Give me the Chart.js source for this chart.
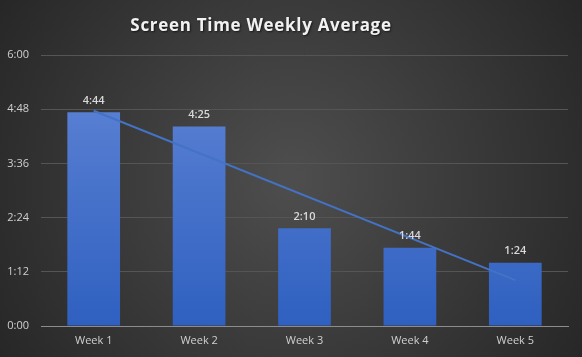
<!DOCTYPE html>
<html>
<head>
<meta charset="utf-8">
<script src="https://cdn.jsdelivr.net/npm/chart.js@4"></script>
<style>
html,body{margin:0;padding:0;background:#2b2b2b;}
#wrap{width:582px;height:357px;position:relative;}
canvas{display:block;}
</style>
</head>
<body>
<div id="wrap"><canvas id="c" width="582" height="357"></canvas></div>
<script>
const chartTitle = "Screen Time Weekly Average";
const categories = ["Week 1", "Week 2", "Week 3", "Week 4", "Week 5"];
// average screen time in minutes (4:44, 4:25, 2:10, 1:44, 1:24)
const minutesPerWeek = [284, 265, 130, 104, 84];
// linear trendline endpoints (minutes)
const trendValues = [286, null, null, null, 61];
const yTickStep = 72;
const yMax = 360;

function fmt(m){
  const h = Math.floor(m/60), mm = Math.round(m%60);
  return h + ":" + String(mm).padStart(2,"0");
}

const bgPlugin = {
  id: "bg",
  beforeDraw(chart){
    const {ctx, width, height} = chart;
    ctx.save();
    const g = ctx.createRadialGradient(width*0.5, height*0.5, 10, width*0.5, height*0.5, width*0.6);
    g.addColorStop(0, "#4d4d4d");
    g.addColorStop(1, "#262626");
    ctx.fillStyle = g;
    ctx.fillRect(0,0,width,height);
    ctx.restore();
  }
};

const titlePlugin = {
  id: "ttl",
  afterDraw(chart){
    const ctx = chart.ctx;
    ctx.save();
    ctx.font = "bold 17px 'Open Sans'";
    try { ctx.letterSpacing = "0.7px"; } catch(e){}
    ctx.textAlign = "center";
    ctx.textBaseline = "alphabetic";
    ctx.shadowColor = "rgba(0,0,0,0.6)";
    ctx.shadowOffsetX = 1; ctx.shadowOffsetY = 1; ctx.shadowBlur = 2;
    ctx.fillStyle = "#f2f2f2";
    ctx.fillText(chartTitle, 261, 31);
    ctx.restore();
  }
};

const labelPlugin = {
  id: "dl",
  afterDatasetsDraw(chart){
    const ctx = chart.ctx;
    const meta = chart.getDatasetMeta(1);
    ctx.save();
    ctx.font = "600 11px 'Open Sans'";
    ctx.fillStyle = "#d9d9d9";
    ctx.textAlign = "center";
    ctx.textBaseline = "bottom";
    meta.data.forEach((bar, i) => {
      ctx.fillText(fmt(minutesPerWeek[i]), bar.x, bar.y - 6);
    });
    ctx.restore();
  }
};

new Chart(document.getElementById("c"), {
  data: {
    labels: categories,
    datasets: [
      {
        type: "line",
        data: trendValues,
        spanGaps: true,
        borderColor: "#4472c4",
        borderWidth: 2,
        pointRadius: 0,
        order: 0
      },
      {
        type: "bar",
        data: minutesPerWeek,
        order: 1,
        categoryPercentage: 1,
        barPercentage: 0.5,
        backgroundColor(ctx){
          const ca = ctx.chart.chartArea;
          if (!ca) return "#4472c4";
          const g = ctx.chart.ctx.createLinearGradient(0, ca.top, 0, ca.bottom);
          g.addColorStop(0, "#6186d6");
          g.addColorStop(1, "#2f60c0");
          return g;
        }
      }
    ]
  },
  options: {
    responsive: false,
    animation: false,
    devicePixelRatio: 1,
    layout: { padding: { top: 55, right: 14, left: 0, bottom: 0 } },
    plugins: { legend: { display: false }, tooltip: { enabled: false } },
    scales: {
      x: {
        grid: { display: false, drawTicks: false },
        border: { color: "#8c8c8c", width: 1 },
        ticks: { color: "#d0d0d0", font: { family: "'Open Sans'", size: 11 }, padding: 8 },
        afterFit(s){ s.height = 31; }
      },
      y: {
        min: 0, max: yMax,
        grid: { color: "#555555", drawTicks: false },
        border: { display: false },
        ticks: {
          stepSize: yTickStep,
          color: "#d0d0d0",
          font: { family: "'Open Sans'", size: 11 },
          padding: 12,
          callback: v => fmt(v)
        },
        afterFit(s){ s.width = 41; }
      }
    }
  },
  plugins: [bgPlugin, titlePlugin, labelPlugin]
});
</script>
</body>
</html>
